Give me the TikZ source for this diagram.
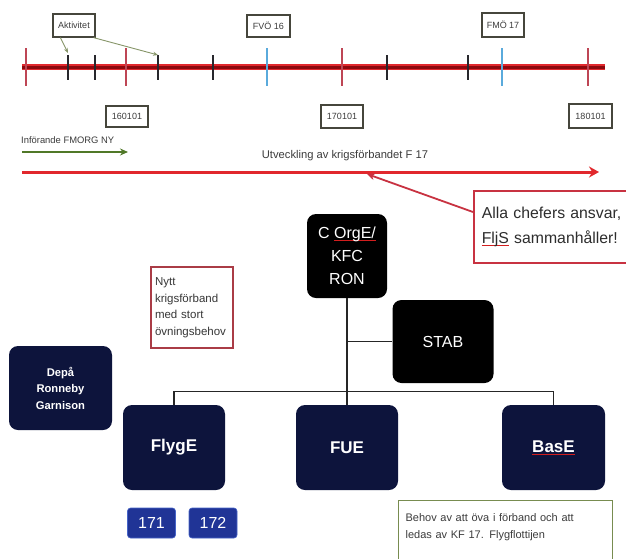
\documentclass[tikz,border=0pt]{standalone}
\usepackage{fontspec}
\setmainfont{Liberation Sans}
\usetikzlibrary{arrows.meta,calc}
\definecolor{navy}{RGB}{13,20,60}
\definecolor{tlred}{RGB}{225,40,45}
\definecolor{tldark}{RGB}{140,10,15}
\definecolor{tickred}{RGB}{190,70,85}
\definecolor{tickblk}{RGB}{40,40,45}
\definecolor{tickblue}{RGB}{90,170,220}
\definecolor{boxgray}{RGB}{70,70,60}
\definecolor{txtgray}{RGB}{60,60,60}
\definecolor{calltxt}{RGB}{45,45,45}
\definecolor{nytttxt}{RGB}{55,55,55}
\definecolor{aktgreen}{RGB}{135,150,105}
\definecolor{infgreen}{RGB}{80,120,40}
\definecolor{callred}{RGB}{200,50,65}
\definecolor{nyttred}{RGB}{170,60,70}
\definecolor{behovgreen}{RGB}{120,140,80}
\definecolor{btnblue}{RGB}{32,52,150}
\definecolor{btnedge}{RGB}{70,100,200}
\definecolor{spellred}{RGB}{210,30,30}
\newcommand\spellul[1]{\leavevmode\setbox0\hbox{#1}\rlap{\color{spellred}\rule[-2.5pt]{\wd0}{0.8pt}}#1}
\begin{document}
\begin{tikzpicture}[x=1pt,y=-1pt,
  tlbox/.style={draw=boxgray,line width=1.3pt,fill=white,text=txtgray,inner sep=0pt,font=\fontsize{9}{10}\selectfont},
  tickr/.style={draw=tickred,line width=1.5pt},
  tickb/.style={draw=tickblk,line width=1.5pt},
  tickl/.style={draw=tickblue,line width=1.5pt},
  blackbox/.style={fill=black,rounded corners=9pt,text=white,align=center,inner sep=0pt,font=\fontsize{16}{23}\selectfont},
  navybox/.style={fill=navy,rounded corners=9pt,text=white,align=center,inner sep=0pt,font=\bfseries\fontsize{17}{20}\selectfont},
  btn/.style={fill=btnblue,draw=btnedge,line width=0.6pt,rounded corners=3pt,text=white,inner sep=0pt,minimum width=48pt,minimum height=30pt,font=\fontsize{16}{18}\selectfont},
  tree/.style={draw=black!85,line width=1.3pt},
  aktarrow/.style={draw=aktgreen,line width=0.9pt,-{Stealth[length=5pt,width=4pt]}}
]
\useasboundingbox (0,0) rectangle (626,558);
\fill[white] (0,0) rectangle (626,558);

% timeline
\coordinate (tlA) at (22,67);
\coordinate (tlB) at (605,67);
\draw[tlred,line width=5.5pt] (tlA) -- (tlB);
\draw[tldark,line width=3pt] (tlA) -- (tlB);
\foreach \x in {26,126,342,588} \draw[tickr] (\x,48) -- (\x,86);
\foreach \x in {68,95,158,213,387,468} \draw[tickb] (\x,55) -- (\x,80);
\foreach \x in {267,502} \draw[tickl] (\x,48) -- (\x,86);

\node[tlbox,minimum width=42pt,minimum height=23pt] (akt) at (74,25.5) {Aktivitet};
\node[tlbox,minimum width=43pt,minimum height=22pt] (fvo) at (268.5,26) {FVÖ 16};
\node[tlbox,minimum width=42pt,minimum height=24pt] (fmo) at (503,25) {FMÖ 17};
\node[tlbox,minimum width=42pt,minimum height=21pt] (d16) at (127,116.5) {160101};
\node[tlbox,minimum width=42pt,minimum height=23pt] (d17) at (342,116.5) {170101};
\node[tlbox,minimum width=43pt,minimum height=24pt] (d18) at (590.5,116) {180101};

\coordinate (tk2) at (68,53);
\coordinate (tk5) at (158,55);
\draw[aktarrow] ($(akt.south west)+(8,0)$) -- (tk2);
\draw[aktarrow] ($(akt.south east)+(-2,0)$) -- (tk5);

% arrows
\node[anchor=west,text=txtgray,inner sep=0pt,font=\fontsize{9.4}{11}\selectfont] (inf) at (21,140) {Införande FMORG NY};
\coordinate (infA) at (22,152);
\coordinate (infB) at (128,152);
\draw[infgreen,line width=2pt,-{Stealth[length=8pt,width=7pt]}] (infA) -- (infB);

\node[text=txtgray,inner sep=0pt,font=\fontsize{11.2}{13}\selectfont] (utv) at (345,156) {Utveckling av krigsförbandet F 17};
\coordinate (utvA) at (22,172);
\coordinate (utvB) at (599,172);
\draw[tlred,line width=3pt,-{Stealth[length=10pt,width=11pt]}] (utvA) -- (utvB);

% callout
\node[draw=callred,line width=1.5pt,fill=white,anchor=north west,minimum width=170pt,minimum height=72pt,text width=154pt,align=left,inner xsep=7pt,inner ysep=0pt,text=calltxt,font=\fontsize{15.8}{25}\selectfont] (call) at (473,190) {Alla chefers ansvar,\\\spellul{FljS} sammanhåller!};
\coordinate (calltip) at (367,174);
\draw[callred,line width=1.8pt,-{Stealth[length=8pt,width=7pt]}] ($(call.north west)+(0,22)$) -- (calltip);

% org chart
\node[blackbox,minimum width=80pt,minimum height=84pt] (corg) at (347,256) {C \spellul{OrgE/}\\KFC\\RON};
\node[blackbox,minimum width=101pt,minimum height=83pt] (stab) at (443,341.5) {STAB};
\node[navybox,minimum width=102pt,minimum height=85pt] (flyg) at (174,447.5) {FlygE};
\node[navybox,minimum width=102pt,minimum height=85pt] (fue) at (347,447.5) {FUE};
\node[navybox,minimum width=103pt,minimum height=85pt] (base) at (553.5,447.5) {\spellul{BasE}};
\node[navybox,minimum width=103pt,minimum height=84pt,font=\bfseries\fontsize{11.2}{16.5}\selectfont] (depa) at (60.5,388) {Depå\\Ronneby\\Garnison};
\node[btn] (b171) at (151.5,523) {171};
\node[btn] (b172) at (213,523) {172};

\draw[tree] (corg.south) -- (fue.north);
\draw[tree] (stab.west) -- (stab.west -| corg.south);
\draw[tree] (flyg.north) -- ++(0,-13) -| (base.north);

\node[draw=nyttred,line width=1.2pt,minimum width=82pt,minimum height=81pt,text width=74pt,align=left,inner sep=4pt,text=nytttxt,font=\fontsize{11.5}{16.5}\selectfont] (nytt) at (192,307.5) {Nytt\\krigsförband\\med stort\\övningsbehov};

\node[draw=behovgreen,line width=1.2pt,anchor=north west,minimum width=214pt,minimum height=80pt,text width=200pt,align=left,inner xsep=7pt,inner ysep=0pt,text=txtgray,font=\fontsize{11}{17}\selectfont] (behov) at (398,500) {\rule{0pt}{17pt}Behov av att öva i förband och att\\ledas av KF 17. Flygflottijen\\[22pt]\mbox{}};
\end{tikzpicture}
\end{document}
